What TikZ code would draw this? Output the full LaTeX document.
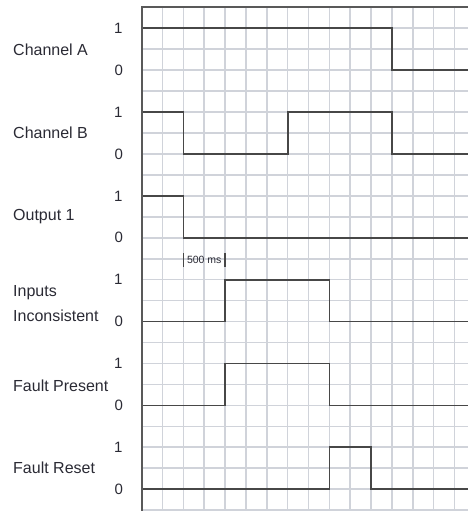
\documentclass[tikz,border=0pt]{standalone}
\usepackage{fontspec}
\setmainfont{Liberation Sans}
\definecolor{gridc}{HTML}{D0D3DA}
\definecolor{sigc}{HTML}{474747}
\definecolor{txtc}{HTML}{2A2A34}
\tikzset{
  gridline/.style={draw=gridc, line width=1.6pt},
  border/.style={draw=sigc!90, line width=2pt},
  signal/.style={draw=sigc, line width=1.7pt, line join=miter},
  lab/.style={anchor=west, inner sep=0pt, text=txtc, font=\fontsize{16}{18}\selectfont},
  lvl/.style={anchor=center, inner sep=0pt, text=txtc, font=\fontsize{15}{17}\selectfont},
  msbar/.style={draw=sigc, line width=1.3pt},
  mstext/.style={inner sep=0pt, text=txtc, font=\fontsize{10.5}{11}\selectfont}
}
\begin{document}
\begin{tikzpicture}[x=1pt,y=-1pt]
\useasboundingbox (0,0) rectangle (468,511);
% labels
\node[lab] (chA) at (13,50) {Channel A};
\node[lab] (chB) at (13,133) {Channel B};
\node[lab] (out) at (13,217) {Output 1};
\node[lab] (inp1) at (13,293) {Inputs};
\node[lab] (inp2) at (13,316) {Inconsistent};
\node[lab] (fp) at (13,386) {Fault Present};
\node[lab] (fr) at (13,468) {Fault Reset};
\begin{scope}[shift={(141.7,7.3)}, x=20.85pt, y=-20.95pt]
  \begin{scope}
  \clip (0,-1) rectangle (15.65,24.04);
  \foreach \j in {1,...,16} \draw[gridline] (\j,0) -- (\j,24.1);
  \foreach \k in {1,...,24} \draw[gridline] (0,\k) -- (16,\k);
  % signals
  \draw[signal] (0,1) -- (12,1) -- (12,3) -- (16,3);
  \draw[signal] (0,5) -- (2,5) -- (2,7) -- (7,7) -- (7,5) -- (12,5) -- (12,7) -- (16,7);
  \draw[signal] (0,9) -- (2,9) -- (2,11) -- (16,11);
  \draw[signal] (0,15) -- (4,15) -- (4,13) -- (9,13) -- (9,15) -- (16,15);
  \draw[signal] (0,19) -- (4,19) -- (4,17) -- (9,17) -- (9,19) -- (16,19);
  \draw[signal] (0,23) -- (9,23) -- (9,21) -- (11,21) -- (11,23) -- (16,23);
  \end{scope}
  \draw[border] (0,24.1) -- (0,0) -- (16,0);
  % level labels
  \foreach \r [count=\i] in {1,5,9,13,17,21} {
    \node[lvl] (one\i) at (-1.12,\r) {1};
    \node[lvl] (zero\i) at (-1.1,{\r+2}) {0};
  }
  % 500 ms marker
  \coordinate (msA1) at (2,11.73); \coordinate (msA2) at (2,12.38);
  \coordinate (msB1) at (4,11.73); \coordinate (msB2) at (4,12.38);
  \draw[msbar] (msA1) -- (msA2);
  \draw[msbar] (msB1) -- (msB2);
  \node[mstext] (ms) at (3,12.08) {500 ms};
\end{scope}
\end{tikzpicture}
\end{document}
